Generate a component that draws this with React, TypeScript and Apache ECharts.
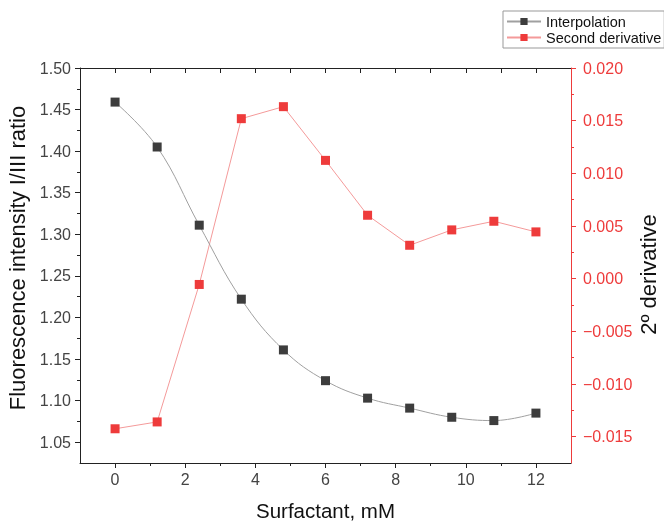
import React, { useEffect, useRef } from "react";
import * as echarts from "echarts";

const xValues = [0, 1.2, 2.4, 3.6, 4.8, 6, 7.2, 8.4, 9.6, 10.8, 12];
const interpolation = [1.459, 1.405, 1.311, 1.222, 1.161, 1.124, 1.103, 1.091, 1.080, 1.076, 1.085];
const secondDerivative = [-0.01425, -0.0136, -0.00055, 0.01519, 0.01633, 0.01123, 0.00602, 0.00317, 0.00463, 0.00545, 0.00444];

const xMajorTicks = [0, 2, 4, 6, 8, 10, 12];
const xMinorTicks = [1, 3, 5, 7, 9, 11];
const xTopTicks = [0, 1, 2, 3, 4, 5, 6, 7, 8, 9, 10, 11, 12];
const leftTicks = [1.05, 1.1, 1.15, 1.2, 1.25, 1.3, 1.35, 1.4, 1.45, 1.5];
const leftMinorTicks = [1.075, 1.125, 1.175, 1.225, 1.275, 1.325, 1.375, 1.425, 1.475];
const rightTicks = [-0.015, -0.01, -0.005, 0, 0.005, 0.01, 0.015, 0.02];
const rightMinorTicks = [-0.0125, -0.0075, -0.0025, 0.0025, 0.0075, 0.0125, 0.0175];

const FONT = "Liberation Sans";
const RED = "#ee3b3b";
const AXIS_BLACK = "#222";

export default function App() {
  const ref = useRef<HTMLDivElement>(null);
  useEffect(() => {
    const chart = echarts.init(ref.current!, null, { renderer: "svg" });
    const baseX = {
      type: "value",
      min: -1,
      max: 13,
      splitLine: { show: false },
    };
    const baseLeft = { type: "value", min: 1.025, max: 1.5, position: "left", splitLine: { show: false } };
    const baseRight = { type: "value", min: -0.0175, max: 0.02, position: "right", splitLine: { show: false } };
    chart.setOption({
      animation: false,
      textStyle: { fontFamily: FONT },
      grid: { left: 80, right: 93, top: 68, bottom: 60, containLabel: false, outerBoundsMode: "none" },
      legend: {
        orient: "vertical",
        left: 503,
        top: 11,
        borderColor: "#999",
        borderWidth: 1,
        padding: [3, 3, 3, 3],
        itemGap: 1,
        itemWidth: 34,
        itemHeight: 9,
        textStyle: { fontSize: 14.5, color: "#111", fontFamily: FONT },
        data: ["Interpolation", "Second derivative"],
      },
      xAxis: [
        {
          ...baseX,
          position: "bottom",
          name: "Surfactant, mM",
          nameLocation: "middle",
          nameGap: 37,
          nameTextStyle: { fontSize: 20.5, color: "#111", fontFamily: FONT },
          axisLine: { onZero: false, lineStyle: { color: AXIS_BLACK, width: 1 } },
          axisTick: { customValues: xMajorTicks, length: 5, lineStyle: { color: AXIS_BLACK } },
          axisLabel: { customValues: xMajorTicks, fontSize: 16, color: "#444", margin: 8, fontFamily: FONT },
        },
        {
          ...baseX,
          position: "bottom",
          axisLine: { show: false, onZero: false },
          axisTick: { customValues: xMinorTicks, length: 3, lineStyle: { color: AXIS_BLACK } },
          axisLabel: { show: false },
        },
        {
          ...baseX,
          position: "top",
          axisLine: { onZero: false, lineStyle: { color: AXIS_BLACK, width: 1 } },
          axisTick: { customValues: xTopTicks, inside: true, length: 5, lineStyle: { color: AXIS_BLACK } },
          axisLabel: { show: false },
        },
      ],
      yAxis: [
        {
          ...baseLeft,
          name: "Fluorescence intensity I/III ratio",
          nameLocation: "middle",
          nameRotate: 90,
          nameGap: 42,
          nameTextStyle: { fontSize: 22, color: "#111", fontFamily: FONT, padding: [0, 0, 0, 15] },
          axisLine: { onZero: false, lineStyle: { color: AXIS_BLACK, width: 1 } },
          axisTick: { customValues: leftTicks, length: 5, lineStyle: { color: AXIS_BLACK } },
          axisLabel: {
            customValues: leftTicks,
            fontSize: 16,
            color: "#444",
            margin: 9,
            fontFamily: FONT,
            formatter: (v: number) => v.toFixed(2),
          },
        },
        {
          ...baseRight,
          name: "2º derivative",
          nameLocation: "middle",
          nameRotate: 90,
          nameGap: 66,
          nameMoveOverlap: false,
          nameTextStyle: { fontSize: 22, color: "#111", fontFamily: FONT, padding: [0, 18, 0, 0] },
          axisLine: { onZero: false, lineStyle: { color: RED, width: 1 } },
          axisTick: { customValues: rightTicks, length: 5, lineStyle: { color: RED } },
          axisLabel: {
            customValues: rightTicks,
            fontSize: 16,
            color: RED,
            margin: 12,
            fontFamily: FONT,
            formatter: (v: number) => {
              const s = Math.abs(v).toFixed(3);
              return v < -1e-9 ? "\u2212" + s : s;
            },
          },
        },
        {
          ...baseLeft,
          axisLine: { show: false, onZero: false },
          axisTick: { customValues: leftMinorTicks, length: 3, lineStyle: { color: AXIS_BLACK } },
          axisLabel: { show: false },
        },
        {
          ...baseRight,
          axisLine: { show: false, onZero: false },
          axisTick: { customValues: rightMinorTicks, length: 3, lineStyle: { color: RED } },
          axisLabel: { show: false },
        },
      ],
      series: [
        {
          type: "line",
          name: "Interpolation",
          xAxisIndex: 0,
          yAxisIndex: 0,
          data: xValues.map((x, i) => [x, interpolation[i]]),
          smooth: 0.4,
          symbol: "rect",
          symbolSize: 9,
          lineStyle: { color: "#a0a0a0", width: 1 },
          itemStyle: { color: "#3d3d3d" },
          z: 3,
        },
        {
          type: "line",
          name: "Second derivative",
          xAxisIndex: 0,
          yAxisIndex: 1,
          data: xValues.map((x, i) => [x, secondDerivative[i]]),
          symbol: "rect",
          symbolSize: 9,
          lineStyle: { color: "#f49a9a", width: 1 },
          itemStyle: { color: RED },
          z: 2,
        },
      ],
    });
    return () => chart.dispose();
  }, []);
  return <div ref={ref} style={{ position: "fixed", left: 0, top: 0, width: 664, height: 523 }} />;
}
